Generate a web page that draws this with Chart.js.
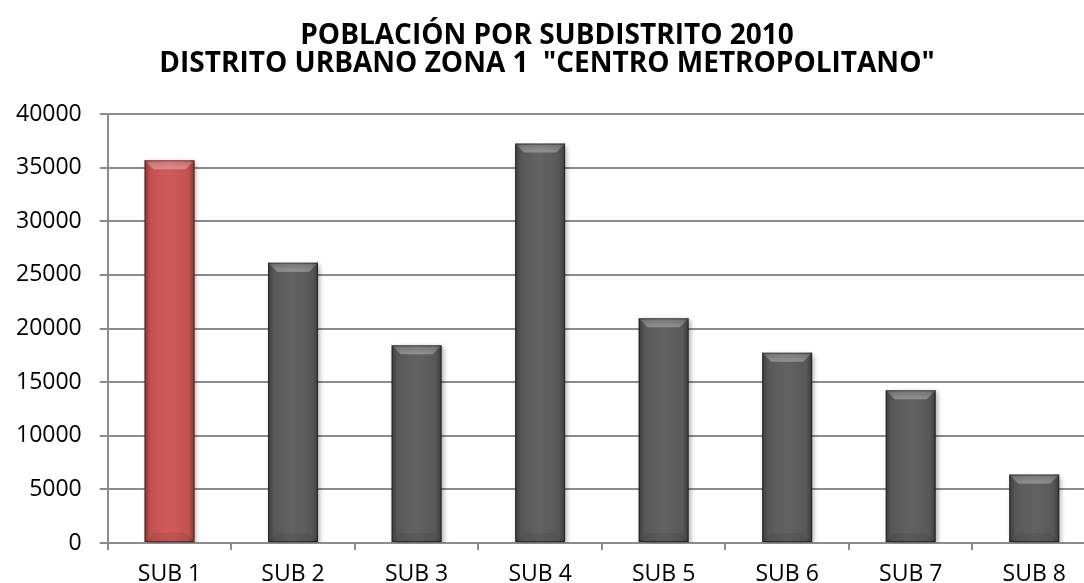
<!DOCTYPE html>
<html>
<head>
<meta charset="utf-8">
<script src="https://cdn.jsdelivr.net/npm/chart.js@4.4.1/dist/chart.umd.min.js"></script>
<style>
  html, body { margin: 0; padding: 0; background: #fff; overflow: hidden; }
  #wrap { width: 1084px; height: 583px; overflow: hidden; }
</style>
</head>
<body>
<div id="wrap"><canvas id="popChart" width="1098" height="588"></canvas></div>
<script>
// Población por subdistrito, 2010
const subdistritos = ['SUB 1', 'SUB 2', 'SUB 3', 'SUB 4', 'SUB 5', 'SUB 6', 'SUB 7', 'SUB 8'];
const poblacion = [35680, 26140, 18430, 37240, 20950, 17750, 14240, 6380];
const colores = ['#cd5553', '#5c5c5c', '#5c5c5c', '#5c5c5c', '#5c5c5c', '#5c5c5c', '#5c5c5c', '#5c5c5c'];
const titulo = ['POBLACIÓN POR SUBDISTRITO 2010', 'DISTRITO URBANO ZONA 1  "CENTRO METROPOLITANO"'];

// efecto biselado sobre cada barra
const bevel = {
  id: 'bevel',
  beforeDatasetsDraw(chart) {
    const ctx = chart.ctx;
    ctx.save();
    ctx.shadowColor = 'rgba(0,0,0,0.35)';
    ctx.shadowBlur = 5;
    ctx.shadowOffsetX = 2;
    ctx.shadowOffsetY = 2;
  },
  afterDatasetsDraw(chart) {
    const ctx = chart.ctx;
    ctx.restore();
    const meta = chart.getDatasetMeta(0);
    meta.data.forEach(function(bar) {
      const w = bar.width;
      const l = bar.x - w / 2, r = bar.x + w / 2;
      const t = bar.y, b = bar.base;
      const d = 9;
      ctx.save();
      // bordes laterales oscuros
      let g = ctx.createLinearGradient(l, 0, r, 0);
      g.addColorStop(0, 'rgba(0,0,0,0.35)');
      g.addColorStop(0.12, 'rgba(0,0,0,0.05)');
      g.addColorStop(0.5, 'rgba(255,255,255,0.04)');
      g.addColorStop(0.88, 'rgba(0,0,0,0.05)');
      g.addColorStop(1, 'rgba(0,0,0,0.35)');
      ctx.fillStyle = g;
      ctx.fillRect(l, t, w, b - t);
      // tapa superior
      ctx.beginPath();
      ctx.moveTo(l, t);
      ctx.lineTo(r, t);
      ctx.lineTo(r - d, t + d);
      ctx.lineTo(l + d, t + d);
      ctx.closePath();
      g = ctx.createLinearGradient(0, t, 0, t + d);
      g.addColorStop(0, 'rgba(255,255,255,0.12)');
      g.addColorStop(1, 'rgba(255,255,255,0.32)');
      ctx.fillStyle = g;
      ctx.fill();
      // base inferior
      ctx.beginPath();
      ctx.moveTo(l, b);
      ctx.lineTo(r, b);
      ctx.lineTo(r - d, b - d);
      ctx.lineTo(l + d, b - d);
      ctx.closePath();
      ctx.fillStyle = 'rgba(0,0,0,0.08)';
      ctx.fill();
      ctx.strokeStyle = 'rgba(0,0,0,0.45)';
      ctx.lineWidth = 1;
      ctx.strokeRect(l + 0.5, t + 0.5, w - 1, b - t - 1);
      ctx.restore();
    });
  }
};

function dibujar() {
  const ctx = document.getElementById('popChart').getContext('2d');
  new Chart(ctx, {
    type: 'bar',
    data: {
      labels: subdistritos,
      datasets: [{
        data: poblacion,
        backgroundColor: colores,
        borderWidth: 0,
        categoryPercentage: 1,
        barPercentage: 0.404
      }]
    },
    options: {
      responsive: false,
      animation: false,
      layout: { padding: { left: -2, right: 2, top: 0, bottom: -11 } },
      plugins: {
        legend: { display: false },
        tooltip: { enabled: false },
        title: {
          display: true,
          text: titulo,
          color: '#000',
          font: { family: 'Open Sans', size: 28, weight: 'bold', lineHeight: 1.0 },
          padding: { top: 22, bottom: 36 }
        }
      },
      scales: {
        x: {
          grid: { drawOnChartArea: false, color: '#8c8c8c', lineWidth: 2, tickLength: 7 },
          border: { color: '#8c8c8c', width: 2 },
          ticks: { color: '#000', font: { family: 'Open Sans', size: 23, lineHeight: 1 }, padding: 13 }
        },
        y: {
          min: 0,
          max: 40000,
          grid: { color: '#8c8c8c', lineWidth: 2, tickLength: 8 },
          border: { color: '#8c8c8c', width: 2 },
          ticks: {
            stepSize: 5000,
            color: '#000',
            font: { family: 'Open Sans', size: 23 },
            padding: 18,
            callback: v => String(v)
          }
        }
      }
    },
    plugins: [bevel]
  });
}

Promise.all([
  document.fonts.load('23px "Open Sans"'),
  document.fonts.load('bold 28px "Open Sans"')
]).then(dibujar, dibujar);
</script>
</body>
</html>
